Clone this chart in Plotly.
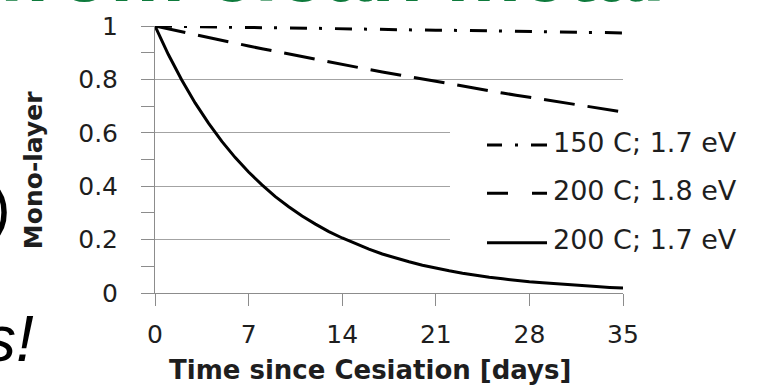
import plotly.graph_objects as go

# ---------------- data ----------------
days = list(range(0, 36))

series_names = ["150 C; 1.7 eV", "200 C; 1.8 eV", "200 C; 1.7 eV"]

mono_150_17 = [1.000, 0.999, 0.999, 0.998, 0.997, 0.996, 0.996, 0.995, 0.994, 0.993,
               0.993, 0.992, 0.991, 0.990, 0.990, 0.989, 0.988, 0.987, 0.987, 0.986,
               0.985, 0.984, 0.984, 0.983, 0.982, 0.981, 0.981, 0.980, 0.979, 0.978,
               0.978, 0.977, 0.976, 0.976, 0.975, 0.974]

mono_200_18 = [1.000, 0.989, 0.978, 0.967, 0.957, 0.946, 0.936, 0.925, 0.915, 0.905,
               0.895, 0.885, 0.875, 0.866, 0.856, 0.847, 0.837, 0.828, 0.819, 0.810,
               0.801, 0.792, 0.783, 0.775, 0.766, 0.758, 0.749, 0.741, 0.733, 0.725,
               0.717, 0.709, 0.701, 0.694, 0.686, 0.678]

mono_200_17 = [1.000, 0.893, 0.798, 0.712, 0.636, 0.568, 0.507, 0.453, 0.405, 0.361,
               0.323, 0.288, 0.258, 0.230, 0.206, 0.184, 0.164, 0.146, 0.131, 0.117,
               0.104, 0.093, 0.083, 0.074, 0.066, 0.059, 0.053, 0.047, 0.042, 0.038,
               0.034, 0.030, 0.027, 0.024, 0.021, 0.019]

x_ticks = [0, 7, 14, 21, 28, 35]
y_ticks = [0, 0.2, 0.4, 0.6, 0.8, 1]

x_title = "Time since Cesiation [days]"
y_title = "Mono-layer"

# ---------------- layout geometry ----------------
W, H = 759, 391
L, R, T, B = 155, 136, 17, 98
PW, PH = W - L - R, H - T - B


def px_x(px):
    return (px - L) / PW


def px_y(py):
    return (H - B - py) / PH


INK = "#1e1e1e"
GRID = "#a3a3a3"
AXIS = "#8c8c8c"
FONT = "DejaVu Sans"

dashes = ["17px,12px,3px,13px", "31px,13px", "solid"]
values = [mono_150_17, mono_200_18, mono_200_17]

fig = go.Figure()
for name, vals, dash in zip(series_names, values, dashes):
    fig.add_trace(go.Scatter(
        x=days, y=vals, name=name, mode="lines",
        line=dict(color="black", width=3, dash=dash),
        showlegend=False, hoverinfo="skip",
    ))

# ---------------- manual legend ----------------
shapes = [dict(type="rect", xref="paper", yref="paper",
               x0=px_x(450), x1=px_x(762), y0=px_y(262), y1=px_y(115),
               fillcolor="white", line=dict(width=0), layer="above")]
legend_rows = [137, 187, 238]
legend_dash = ["15px,13px,3px,13px,16px", "21px,24px,15px", "solid"]
annotations = []
for name, yrow, dsh in zip(series_names, legend_rows, legend_dash):
    shapes.append(dict(type="line", xref="paper", yref="paper",
                       x0=px_x(487), x1=px_x(547), y0=px_y(yrow + 3), y1=px_y(yrow + 3),
                       line=dict(color="black", width=3, dash=dsh), layer="above"))
    annotations.append(dict(text=name, xref="paper", yref="paper",
                            x=px_x(551), y=px_y(yrow), xanchor="left", yanchor="middle",
                            showarrow=False, font=dict(family=FONT, size=27, color=INK)))

# axis titles
annotations.append(dict(text="<b>" + x_title + "</b>", xref="paper", yref="paper",
                        x=px_x(370), y=px_y(373), xanchor="center", yanchor="middle",
                        showarrow=False, font=dict(family=FONT, size=26, color=INK)))
annotations.append(dict(text="<b>" + y_title + "</b>", xref="paper", yref="paper",
                        x=px_x(33), y=px_y(166), xanchor="center", yanchor="middle",
                        textangle=-90, showarrow=False,
                        font=dict(family=FONT, size=25, color=INK)))

# slide fragments around the chart
annotations.append(dict(text="<b>from clean metal</b>", xref="paper", yref="paper",
                        x=px_x(-4), y=px_y(12), xanchor="left", yanchor="bottom",
                        showarrow=False,
                        font=dict(family="Liberation Sans", size=84, color="#0e7a3c")))
annotations.append(dict(text=")", xref="paper", yref="paper",
                        x=px_x(13), y=px_y(204), xanchor="right", yanchor="middle",
                        showarrow=False,
                        font=dict(family="Liberation Sans", size=62, color="black")))
annotations.append(dict(text="<i>s!</i>", xref="paper", yref="paper",
                        x=px_x(36), y=px_y(341), xanchor="right", yanchor="middle",
                        showarrow=False,
                        font=dict(family="Liberation Sans", size=64, color="black")))

fig.update_layout(
    width=W, height=H,
    margin=dict(l=L, r=R, t=T, b=B),
    paper_bgcolor="white", plot_bgcolor="white",
    showlegend=False,
    shapes=shapes, annotations=annotations,
    font=dict(family=FONT, color=INK),
)

fig.update_xaxes(
    range=[0, 35], tickvals=x_ticks, ticktext=[str(v) for v in x_ticks],
    showgrid=False, zeroline=False,
    showline=True, linecolor=AXIS, linewidth=1,
    ticks="outside", ticklen=12, tickcolor=AXIS, tickwidth=1,
    ticklabelstandoff=7,
    tickfont=dict(family=FONT, size=25, color=INK),
)
fig.update_yaxes(
    range=[0, 1], tickvals=y_ticks, ticktext=["0", "0.2", "0.4", "0.6", "0.8", "1"],
    showgrid=True, gridcolor=GRID, gridwidth=1, zeroline=False,
    showline=True, linecolor=AXIS, linewidth=1,
    ticks="outside", ticklen=13, tickcolor=AXIS, tickwidth=1,
    ticklabelstandoff=18,
    tickfont=dict(family=FONT, size=25, color=INK),
    minor=dict(tickvals=[0.1, 0.3, 0.5, 0.7, 0.9], ticks="outside", ticklen=13,
               tickcolor=AXIS, tickwidth=1, showgrid=False),
)

fig.write_html("out.html")
